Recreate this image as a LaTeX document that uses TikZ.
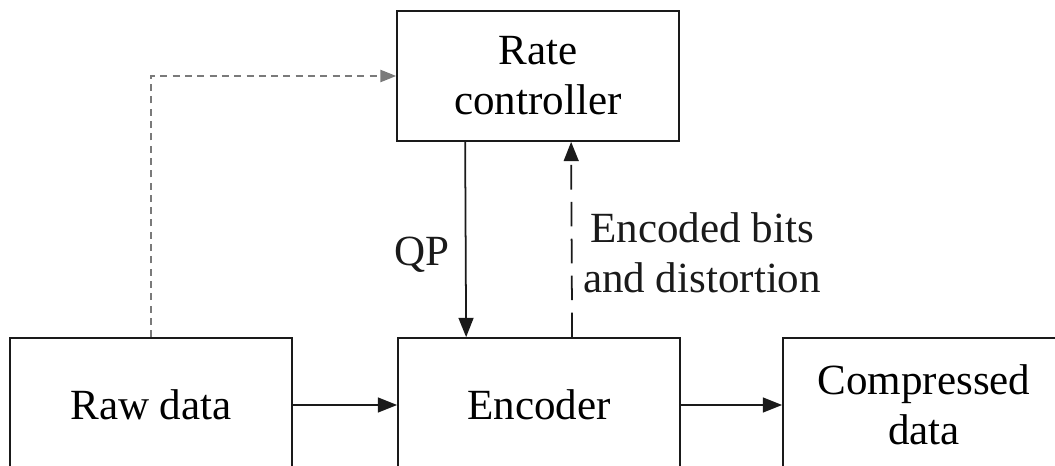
\documentclass[tikz,border=0pt]{standalone}
\usepackage{fontspec}
\setmainfont{Liberation Serif}
\usetikzlibrary{arrows.meta, positioning, calc}
\definecolor{lineDark}{HTML}{1A1A1A}
\definecolor{lineGray}{HTML}{7A7A7A}
\tikzset{
  arrowS/.style={-{Triangle[length=11pt, width=8.5pt]}, lineDark, line width=1pt},
  arrowDash/.style={-{Triangle[length=11pt, width=8.5pt]}, lineDark, line width=1pt,
                    dash pattern=on 14pt off 7pt},
  arrowHint/.style={-{Triangle[length=9pt, width=7pt]}, lineGray, line width=0.8pt,
                    dash pattern=on 4pt off 3pt},
  blockBox/.style={rectangle, draw=lineDark, line width=1pt, fill=white,
                   align=center, minimum width=5.64cm, minimum height=2.6cm,
                   inner sep=0pt},
  lbl/.style={align=center, inner sep=0pt},
}

\begin{document}
\begin{tikzpicture}[x=0.02cm, y=-0.02cm,
    font=\fontsize{24.5}{28.5}\selectfont]
  \useasboundingbox (0,0) rectangle (1055,466);
  % Bloques
  \node[blockBox] (rate) at (538,76) {Rate\\controller};
  \node[blockBox, minimum height=2.68cm] (raw) at (151,405) {Raw data};
  \node[blockBox, minimum height=2.68cm] (enc) at (539,405) {Encoder};
  \node[blockBox, minimum height=2.68cm] (comp) at (924,405) {Compressed\\data};
  % Flujo principal
  \draw[arrowS] (raw) -- (enc);
  \draw[arrowS] (enc) -- (comp);
  % Lazo de control
  \draw[arrowS] ([xshift=1.38cm]rate.south west) -- ([xshift=1.38cm]enc.north west)
    node[lbl, pos=0.58, left=9pt] (qp) {QP};
  \draw[arrowDash] ([xshift=3.5cm]enc.north west) -- ([xshift=3.5cm]rate.south west)
    node[lbl, pos=0.43, right=6pt] (bits) {Encoded bits\\and distortion};
  \draw[arrowHint] (raw.north) |- (rate.west);
\end{tikzpicture}
\end{document}
